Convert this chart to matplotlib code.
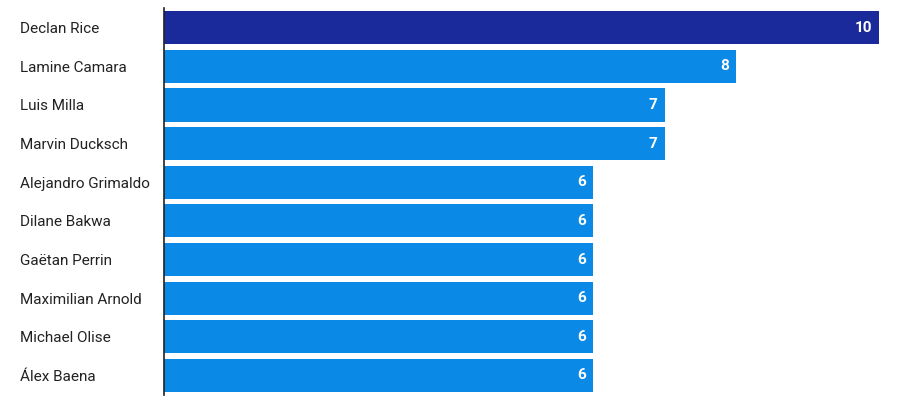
import matplotlib
matplotlib.use("Agg")
import matplotlib.pyplot as plt

plt.rcParams['font.family'] = ['Roboto', 'DejaVu Sans']

players = ["Declan Rice", "Lamine Camara", "Luis Milla", "Marvin Ducksch",
           "Alejandro Grimaldo", "Dilane Bakwa", "Gaëtan Perrin",
           "Maximilian Arnold", "Michael Olise", "Álex Baena"]
values = [10, 8, 7, 7, 6, 6, 6, 6, 6, 6]
colors = ["#1b2a9b"] + ["#0a8ae6"] * 9

fig = plt.figure(figsize=(9.12, 4.13), dpi=100)
ax = fig.add_axes([0.18, 0.044, 0.784, 0.936])

y = range(len(players))
ax.barh(y, values, height=0.86, color=colors)
for yi, v in zip(y, values):
    ax.text(v - 0.1, yi, str(v), color="white", fontsize=11, fontweight="bold",
            ha="right", va="center")

ax.set_xlim(0, 10)
ax.set_ylim(9.5, -0.5)
ax.set_xticks([])
ax.set_yticks(list(y))
ax.set_yticklabels(players, fontsize=11, color="#222222", ha="left")
ax.tick_params(axis="y", length=0, pad=104)
for s in ["top", "right", "bottom"]:
    ax.spines[s].set_visible(False)
ax.spines["left"].set_color("#222222")
ax.spines["left"].set_linewidth(1.2)

fig.savefig("out.png", dpi=100)
